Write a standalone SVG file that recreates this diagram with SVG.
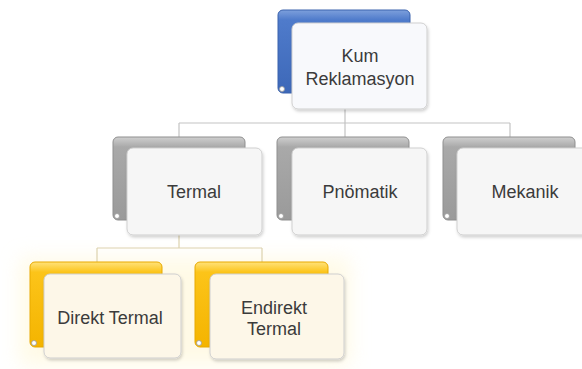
<svg xmlns="http://www.w3.org/2000/svg" width="582" height="369" viewBox="0 0 582 369">
<defs>
<linearGradient id="gBlue" x1="0" y1="0" x2="0" y2="1">
<stop offset="0" stop-color="#7da0dc"/><stop offset="0.12" stop-color="#4f7bcb"/><stop offset="1" stop-color="#3d68b8"/>
</linearGradient>
<linearGradient id="gGray" x1="0" y1="0" x2="0" y2="1">
<stop offset="0" stop-color="#cfcfcf"/><stop offset="0.12" stop-color="#a9a9a9"/><stop offset="1" stop-color="#9a9a9a"/>
</linearGradient>
<linearGradient id="gYel" x1="0" y1="0" x2="0" y2="1">
<stop offset="0" stop-color="#ffe27a"/><stop offset="0.12" stop-color="#fcc419"/><stop offset="1" stop-color="#f4b400"/>
</linearGradient>
<filter id="sh" x="-10%" y="-10%" width="130%" height="130%">
<feDropShadow dx="1" dy="2" stdDeviation="1.5" flood-color="#000" flood-opacity="0.18"/>
</filter>
<filter id="blur" x="-20%" y="-20%" width="140%" height="140%">
<feGaussianBlur stdDeviation="10"/>
</filter>
</defs>
<style>
.back{stroke-width:1}
.blue{fill:url(#gBlue);stroke:#3a62ad}
.gray{fill:url(#gGray);stroke:#8f8f8f}
.yel{fill:url(#gYel);stroke:#e8a900}
.front{stroke:#cfcfcf;stroke-width:1;filter:url(#sh)}
.fb{fill:#f8f9fc}
.fg{fill:#f6f6f6}
.fy{fill:#fdf7e8}
.curl{fill:#ffffff;stroke:#9a9a9a;stroke-width:0.8}
text{font-family:"Liberation Sans",Arial,sans-serif;font-size:18px;fill:#3b3b3b;text-anchor:middle}
.c1{fill:none;stroke:#c3c3c3;stroke-width:1.2}
.c2{fill:none;stroke:#ddd2ae;stroke-width:1.2}
</style>
<rect x="0" y="0" width="582" height="369" fill="#ffffff"/>
<rect x="20" y="258" width="330" height="108" fill="#fff7d6" opacity="0.6" filter="url(#blur)"/>
<g id="connectors">
<path class="c1" d="M345 109 V123 M179 123 H510 M179 123 V137 M345 123 V137 M510 123 V137"/>
<path class="c2" d="M179 235 V248 M97 248 H262 M97 248 V262 M262 248 V262"/>
</g>
<g id="node-kum">
<rect class="back blue" x="278" y="10" width="132" height="83" rx="5"/>
<circle class="curl" cx="282" cy="89" r="2.5" stroke="#3a62ad"/>
<rect class="front fb" x="292" y="23" width="135" height="86" rx="6"/>
<text x="360" y="62">Kum</text>
<text x="360" y="85">Reklamasyon</text>
</g>
<g id="node-termal">
<rect class="back gray" x="113" y="137" width="132" height="83" rx="5"/>
<circle class="curl" cx="117" cy="216" r="2.5"/>
<rect class="front fg" x="127" y="148" width="135" height="87" rx="6"/>
<text x="194" y="198">Termal</text>
</g>
<g id="node-pnomatik">
<rect class="back gray" x="277" y="137" width="132" height="83" rx="5"/>
<circle class="curl" cx="281" cy="216" r="2.5"/>
<rect class="front fg" x="292" y="148" width="135" height="87" rx="6"/>
<text x="360" y="198">Pnömatik</text>
</g>
<g id="node-mekanik">
<rect class="back gray" x="443" y="137" width="132" height="83" rx="5"/>
<circle class="curl" cx="447" cy="216" r="2.5"/>
<rect class="front fg" x="457" y="148" width="135" height="87" rx="6"/>
<text x="525" y="198">Mekanik</text>
</g>
<g id="node-direkt">
<rect class="back yel" x="30" y="262" width="132" height="85" rx="5"/>
<circle class="curl" cx="34" cy="343" r="2.5" stroke="#e8a900"/>
<rect class="front fy" x="44" y="274" width="137" height="84" rx="6"/>
<text x="110" y="324">Direkt Termal</text>
</g>
<g id="node-endirekt">
<rect class="back yel" x="195" y="262" width="133" height="85" rx="5"/>
<circle class="curl" cx="199" cy="343" r="2.5" stroke="#e8a900"/>
<rect class="front fy" x="210" y="274" width="134" height="85" rx="6"/>
<text x="274" y="314">Endirekt</text>
<text x="274" y="335">Termal</text>
</g>
</svg>
